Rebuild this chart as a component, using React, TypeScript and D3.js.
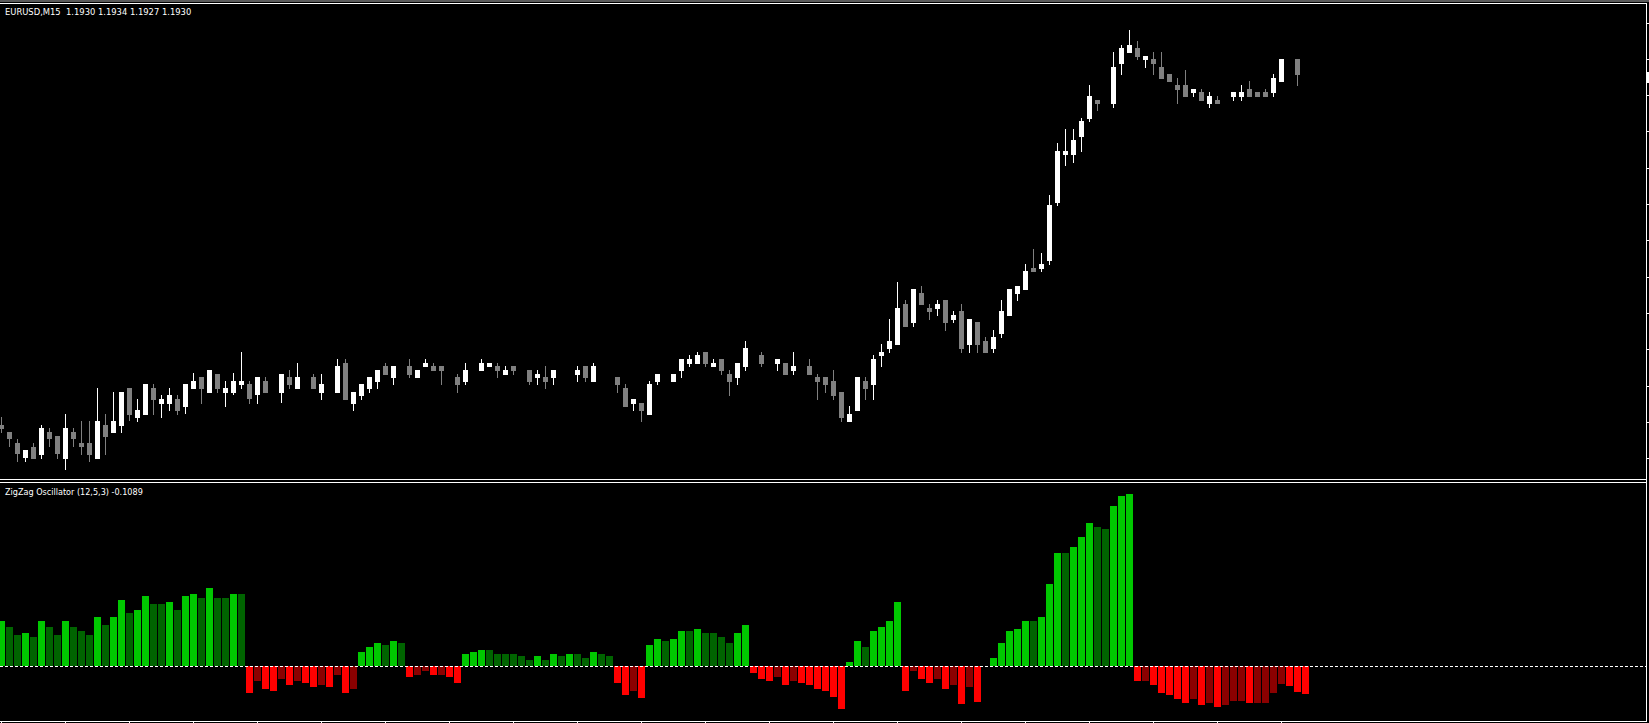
import React, { useEffect } from 'react';
import * as d3 from 'd3';

const symbolLabel = 'EURUSD,M15';
const indicatorLabel = 'ZigZag Oscillator (12,5,3)';

// OHLC per bar (null = doji bars drawn in the black "line" colour, i.e. invisible)
const openP: (number | null)[] = [
  1.18950, 1.18943, 1.18932, 1.18917, 1.18928, 1.18920, 1.18943, 1.18939, 1.18916, 1.18943,
  1.18932, 1.18932, 1.18916, 1.18950, 1.18942, 1.18949, 1.18987, 1.18957, 1.18960, 1.18987,
  1.18971, 1.18971, 1.18976, 1.18968, 1.18986, 1.18998, 1.18982, 1.19001, 1.18982, 1.18982,
  1.18990, 1.18991, 1.18980, 1.18994, null, 1.18982, 1.18998, 1.18986, null, 1.18998,
  1.18982, null, 1.18982, 1.19012, 1.18971, 1.18979, 1.18986, 1.18993, 1.19009, 1.18997,
  null, 1.19009, 1.18997, 1.19008, 1.19009, 1.19009, null, 1.18998, 1.18993, null,
  1.19004, 1.19008, 1.19009, 1.19000, 1.19009, null, 1.19005, 1.18997, 1.18998, 1.18997,
  null, null, 1.19000, 1.19009, 1.18993, null, null, 1.18998, 1.18987, 1.18971,
  1.18972, 1.18960, 1.18993, null, 1.18993, 1.19004, 1.19011, 1.19011, 1.19023, 1.19008,
  1.19016, 1.19001, 1.18997, 1.19008, null, 1.19020, null, 1.19011, 1.19012, 1.19004,
  null, 1.19009, 1.18998, 1.18998, 1.18994, 1.18983, 1.18953, 1.18964, 1.18994, 1.18990,
  1.19019, 1.19026, 1.19030, 1.19071, 1.19052, 1.19082, 1.19067, 1.19066, 1.19075, 1.19055,
  1.19064, 1.19030, 1.19053, 1.19034, 1.19026, 1.19041, 1.19059, 1.19081, 1.19085, 1.19107,
  1.19106, 1.19114, 1.19172, 1.19220, 1.19220, 1.19238, 1.19256, 1.19275, null, 1.19271,
  1.19311, 1.19322, 1.19327, 1.19315, 1.19316, 1.19308, 1.19301, 1.19290, 1.19290, 1.19282,
  1.19283, 1.19271, 1.19275, null, 1.19278, 1.19278, 1.19286, 1.19283, 1.19283, 1.19282,
  1.19293, null, 1.19316, 1.19300,
];
const highP: (number | null)[] = [
  1.18958, 1.18943, 1.18936, 1.18925, 1.18932, 1.18950, 1.18947, 1.18939, 1.18961, 1.18947,
  1.18954, 1.18954, 1.18987, 1.18961, 1.18983, 1.18983, 1.18987, 1.18976, 1.18991, 1.18991,
  1.18980, 1.18987, 1.18980, 1.18991, 1.19002, 1.18998, 1.19005, 1.19001, 1.18994, 1.19002,
  1.19023, 1.18994, 1.18998, 1.18998, null, 1.19001, 1.19005, 1.19012, null, 1.19001,
  1.19001, null, 1.19016, 1.19016, 1.18983, 1.18991, 1.18998, 1.19005, 1.19012, 1.19009,
  null, 1.19016, 1.19005, 1.19016, 1.19012, 1.19009, null, 1.19001, 1.19012, null,
  1.19016, 1.19012, 1.19012, 1.19009, 1.19009, null, 1.19005, 1.19005, 1.19009, 1.19005,
  null, null, 1.19009, 1.19009, 1.19012, null, null, 1.18998, 1.18991, 1.18976,
  1.18972, 1.18994, 1.19001, null, 1.19001, 1.19016, 1.19020, 1.19023, 1.19023, 1.19016,
  1.19016, 1.19005, 1.19012, 1.19034, null, 1.19023, null, 1.19016, 1.19012, 1.19023,
  null, 1.19016, 1.19001, 1.18998, 1.19005, 1.18983, 1.18969, 1.18998, 1.18998, 1.19020,
  1.19031, 1.19056, 1.19093, 1.19075, 1.19086, 1.19089, 1.19071, 1.19075, 1.19075, 1.19064,
  1.19071, 1.19056, 1.19053, 1.19038, 1.19045, 1.19075, 1.19086, 1.19089, 1.19111, 1.19126,
  1.19122, 1.19180, 1.19232, 1.19246, 1.19246, 1.19257, 1.19290, 1.19275, null, 1.19323,
  1.19330, 1.19345, 1.19334, 1.19319, 1.19323, 1.19323, 1.19301, 1.19297, 1.19305, 1.19286,
  1.19286, 1.19283, 1.19279, null, 1.19283, 1.19290, 1.19294, 1.19283, 1.19286, 1.19301,
  1.19316, null, 1.19316, 1.19340,
];
const lowP: (number | null)[] = [
  1.18942, 1.18928, 1.18913, 1.18913, 1.18916, 1.18916, 1.18928, 1.18916, 1.18905, 1.18928,
  1.18920, 1.18913, 1.18916, 1.18920, 1.18942, 1.18942, 1.18954, 1.18953, 1.18960, 1.18960,
  1.18957, 1.18964, 1.18960, 1.18961, 1.18986, 1.18971, 1.18982, 1.18982, 1.18968, 1.18980,
  1.18986, 1.18971, 1.18971, 1.18982, null, 1.18972, 1.18986, 1.18986, null, 1.18986,
  1.18975, null, 1.18982, 1.18975, 1.18964, 1.18975, 1.18982, 1.18986, 1.19000, 1.18990,
  null, 1.18997, 1.18997, 1.19008, 1.19004, 1.18990, null, 1.18982, 1.18990, null,
  1.19004, 1.19008, 1.18997, 1.19000, 1.19000, null, 1.18990, 1.18990, 1.18986, 1.18990,
  null, null, 1.18993, 1.18993, 1.18993, null, null, 1.18982, 1.18968, 1.18964,
  1.18953, 1.18960, 1.18990, null, 1.18993, 1.18997, 1.19008, 1.19011, 1.19008, 1.19008,
  1.19000, 1.18979, 1.18990, 1.19004, null, 1.19008, null, 1.19004, 1.19000, 1.19000,
  null, 1.19000, 1.18975, 1.18982, 1.18975, 1.18953, 1.18953, 1.18964, 1.18975, 1.18975,
  1.19008, 1.19022, 1.19030, 1.19048, 1.19048, 1.19070, 1.19055, 1.19059, 1.19044, 1.19052,
  1.19022, 1.19022, 1.19022, 1.19022, 1.19022, 1.19037, 1.19059, 1.19074, 1.19085, 1.19103,
  1.19103, 1.19110, 1.19169, 1.19209, 1.19212, 1.19223, 1.19253, 1.19264, null, 1.19267,
  1.19300, 1.19322, 1.19315, 1.19307, 1.19300, 1.19296, 1.19293, 1.19271, 1.19278, 1.19278,
  1.19274, 1.19267, 1.19271, null, 1.19274, 1.19274, 1.19278, 1.19278, 1.19278, 1.19278,
  1.19293, null, 1.19289, 1.19270,
];
const closeP: (number | null)[] = [
  1.18946, 1.18936, 1.18921, 1.18925, 1.18916, 1.18947, 1.18936, 1.18921, 1.18947, 1.18936,
  1.18928, 1.18920, 1.18954, 1.18938, 1.18954, 1.18983, 1.18960, 1.18965, 1.18991, 1.18975,
  1.18976, 1.18980, 1.18964, 1.18991, 1.18994, 1.18986, 1.19005, 1.18986, 1.18987, 1.18994,
  1.18994, 1.18976, 1.18998, 1.18982, null, 1.19001, 1.18990, 1.18998, null, 1.18986,
  1.18991, null, 1.19009, 1.18975, 1.18983, 1.18991, 1.18998, 1.19005, 1.19000, 1.19009,
  null, 1.19000, 1.19005, 1.19012, 1.19004, 1.19004, null, 1.18990, 1.19005, null,
  1.19012, 1.19012, 1.19004, 1.19005, 1.19004, null, 1.18993, 1.19001, 1.18993, 1.19005,
  null, null, 1.19005, 1.18997, 1.19009, null, null, 1.18990, 1.18968, 1.18976,
  1.18964, 1.18991, 1.19001, null, 1.19001, 1.19016, 1.19016, 1.19020, 1.19011, 1.19012,
  1.19004, 1.18993, 1.19012, 1.19027, null, 1.19011, null, 1.19016, 1.19000, 1.19009,
  null, 1.19000, 1.18993, 1.18990, 1.18979, 1.18957, 1.18961, 1.18998, 1.18986, 1.19016,
  1.19023, 1.19034, 1.19067, 1.19048, 1.19086, 1.19070, 1.19063, 1.19071, 1.19052, 1.19060,
  1.19026, 1.19056, 1.19030, 1.19022, 1.19038, 1.19064, 1.19086, 1.19089, 1.19104, 1.19103,
  1.19111, 1.19170, 1.19224, 1.19224, 1.19235, 1.19254, 1.19279, 1.19271, null, 1.19308,
  1.19327, 1.19330, 1.19318, 1.19319, 1.19311, 1.19296, 1.19293, 1.19285, 1.19278, 1.19286,
  1.19274, 1.19279, 1.19271, null, 1.19283, 1.19283, 1.19278, 1.19278, 1.19278, 1.19297,
  1.19316, null, 1.19300, 1.19300,
];

// ZigZag oscillator histogram values
const oscValues: number[] = [
  0.1755, 0.1521, 0.1209, 0.1287, 0.1131, 0.1755, 0.1521, 0.1209, 0.1755, 0.1521,
  0.1365, 0.1209, 0.1911, 0.1599, 0.1911, 0.2574, 0.2067, 0.2184, 0.2730, 0.2418,
  0.2418, 0.2496, 0.2184, 0.2730, 0.2808, 0.2652, 0.3042, 0.2652, 0.2652, 0.2808,
  0.2808, -0.1053, -0.0585, -0.0897, -0.0975, -0.0507, -0.0741, -0.0585, -0.0663, -0.0819,
  -0.0741, -0.0819, -0.0351, -0.1053, -0.0897, 0.0546, 0.0741, 0.0897, 0.0819, 0.0975,
  0.0897, -0.0429, -0.0351, -0.0195, -0.0351, -0.0351, -0.0429, -0.0663, 0.0468, 0.0546,
  0.0624, 0.0624, 0.0468, 0.0468, 0.0468, 0.0390, 0.0234, 0.0390, 0.0234, 0.0468,
  0.0390, 0.0468, 0.0468, 0.0312, 0.0546, 0.0468, 0.0390, -0.0663, -0.1131, -0.0975,
  -0.1248, 0.0819, 0.1053, 0.0975, 0.1053, 0.1365, 0.1365, 0.1443, 0.1287, 0.1287,
  0.1131, 0.0897, 0.1287, 0.1599, -0.0273, -0.0507, -0.0585, -0.0429, -0.0741, -0.0585,
  -0.0663, -0.0741, -0.0897, -0.0975, -0.1209, -0.1677, 0.0156, 0.0975, 0.0741, 0.1365,
  0.1521, 0.1755, 0.2496, -0.0975, -0.0195, -0.0507, -0.0663, -0.0507, -0.0897, -0.0741,
  -0.1482, -0.0819, -0.1404, 0, 0.0312, 0.0897, 0.1365, 0.1443, 0.1755, 0.1755,
  0.1911, 0.3198, 0.4407, 0.4407, 0.4641, 0.5031, 0.5577, 0.5421, 0.5343, 0.6240,
  0.6630, 0.6708, -0.0585, -0.0585, -0.0741, -0.1053, -0.1131, -0.1287, -0.1443, -0.1287,
  -0.1521, -0.1443, -0.1599, -0.1521, -0.1365, -0.1365, -0.1443, -0.1443, -0.1443, -0.1053,
  -0.0702, -0.0780, -0.1014, -0.1089,
];

// time-axis tick marks (bar indices) and price-axis tick marks
const timeTickBars = [0, 8, 16, 24, 32, 40, 48, 56, 64, 72, 80, 88, 96, 104, 112, 120, 128, 136, 144, 152, 160];
const priceTicks = [1.19352, 1.19316, 1.19280, 1.19244, 1.19207, 1.19171, 1.19135, 1.19098, 1.19062, 1.19026, 1.18989, 1.18953, 1.18917];

const W = 1649;
const H = 723;
const RIGHT = 1646;

export default function App() {
  useEffect(() => {
    document.body.style.margin = '0';
    document.body.style.background = '#000';
  }, []);

  const n = oscValues.length;
  const xs = d3.scaleLinear().domain([0, n - 1]).range([-2, 1302]);
  const ys = d3.scaleLinear().domain([1.18895, 1.19373]).range([480, 2]);
  const yo = d3.scaleLinear().domain([-0.2145, 0.7137]).range([721, 483]);

  const last = n - 1;
  const fmt = (v: number) => v.toFixed(4);
  const header = `${symbolLabel}  ${fmt(openP[last] as number)} ${fmt(highP[last] as number)} ${fmt(lowP[last] as number)} ${fmt(closeP[last] as number)}`;
  const oscHeader = `${indicatorLabel} ${fmt(oscValues[last])}`;

  const candles = openP.map((o, i) => {
    const c = closeP[i];
    const h = highP[i];
    const l = lowP[i];
    if (o == null || c == null || h == null || l == null) return null;
    const left = xs(i);
    const bull = c > o;
    const doji = c === o;
    const col = doji ? '#000000' : bull ? '#ffffff' : '#808080';
    const top = ys(Math.max(o, c));
    const bot = ys(Math.min(o, c));
    return (
      <g key={'c' + i}>
        <rect x={left + 3} y={ys(h)} width={1} height={Math.max(1, ys(l) - ys(h))} fill={col} />
        <rect x={left + 1} y={top} width={5} height={Math.max(1, bot - top)} fill={col} />
      </g>
    );
  });

  const zeroY = yo(0);
  const bars = oscValues.map((v, i) => {
    if (v === 0) return null;
    const prev = i > 0 ? oscValues[i - 1] : 0;
    const strong = i === 0 || Math.sign(prev) !== Math.sign(v) || Math.abs(v) > Math.abs(prev);
    const fill = v > 0 ? (strong ? '#00c800' : '#006400') : strong ? '#ff0000' : '#8b0000';
    const y1 = yo(v);
    return (
      <rect
        key={'b' + i}
        x={xs(i)}
        y={Math.min(y1, zeroY)}
        width={7}
        height={Math.abs(y1 - zeroY)}
        fill={fill}
      />
    );
  });

  return (
    <svg
      width={W}
      height={H}
      style={{ position: 'absolute', left: 0, top: 0, display: 'block', background: '#000' }}
      shapeRendering="crispEdges"
    >
      <rect x={0} y={0} width={W} height={H} fill="#000" />
      {/* window top edge */}
      <rect x={0} y={0} width={W} height={2} fill="#5a5a5a" />
      <defs>
        <clipPath id="mainClip">
          <rect x={0} y={4} width={RIGHT} height={475} />
        </clipPath>
        <clipPath id="oscClip">
          <rect x={0} y={483} width={RIGHT} height={238} />
        </clipPath>
      </defs>
      <g clipPath="url(#mainClip)">{candles}</g>
      <g clipPath="url(#oscClip)">{bars}</g>
      {/* zero line */}
      <line x1={0} x2={RIGHT} y1={zeroY + 0.5} y2={zeroY + 0.5} stroke="#ffffff" strokeWidth={1} strokeDasharray="3,2" />
      {/* panel frames */}
      <rect x={0} y={3} width={RIGHT} height={1} fill="#ffffff" />
      <rect x={0} y={479} width={RIGHT + 1} height={1} fill="#ffffff" />
      <rect x={0} y={482} width={RIGHT + 1} height={1} fill="#ffffff" />
      <rect x={0} y={721} width={RIGHT + 1} height={1} fill="#ffffff" />
      <rect x={RIGHT} y={3} width={1} height={719} fill="#ffffff" />
      {/* price axis ticks */}
      {priceTicks.map((p, i) => (
        <rect key={'pt' + i} x={RIGHT} y={Math.round(ys(p))} width={3} height={1} fill="#ffffff" />
      ))}
      {/* current price marker */}
      <rect x={RIGHT + 1} y={Math.round(ys(closeP[last] as number)) - 3} width={2} height={11} fill="#ffffff" />
      {/* time axis ticks */}
      {timeTickBars.map((b) => (
        <rect key={'tt' + b} x={xs(b) + 3} y={721} width={1} height={2} fill="#ffffff" />
      ))}
      <text
        x={5}
        y={15}
        fill="#ffffff"
        fontFamily="'DejaVu Sans', Verdana, sans-serif"
        fontSize={8.4}
        style={{ whiteSpace: 'pre' }}
      >
        {header}
      </text>
      <text
        x={5}
        y={495}
        fill="#ffffff"
        fontFamily="'DejaVu Sans', Verdana, sans-serif"
        fontSize={8.1}
        style={{ whiteSpace: 'pre' }}
      >
        {oscHeader}
      </text>
    </svg>
  );
}
